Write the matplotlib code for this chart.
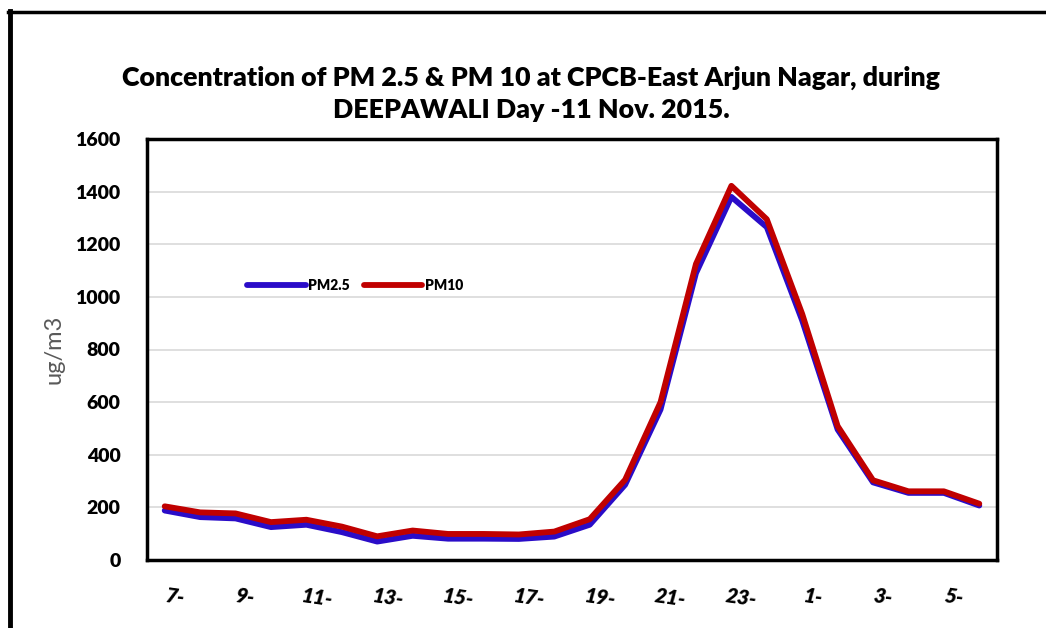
import matplotlib
matplotlib.use("Agg")
import matplotlib.pyplot as plt
from matplotlib.lines import Line2D
import matplotlib.transforms as mtransforms

hours = ["7", "8", "9", "10", "11", "12", "13", "14", "15", "16", "17", "18",
         "19", "20", "21", "22", "23", "0", "1", "2", "3", "4", "5", "6"]
pm25 = [188, 163, 158, 125, 134, 106, 70, 92, 81, 81, 80, 89,
        134, 286, 572, 1090, 1380, 1265, 910, 496, 295, 255, 255, 207]
pm10 = [204, 181, 177, 144, 153, 127, 90, 112, 99, 99, 97, 108,
        155, 305, 600, 1125, 1422, 1295, 935, 509, 303, 261, 261, 214]
title = "Concentration of PM 2.5 & PM 10 at CPCB-East Arjun Nagar, during\nDEEPAWALI Day -11 Nov. 2015."

plt.rcParams['font.family'] = ['Lato', 'DejaVu Sans']
W = "heavy"

fig = plt.figure(figsize=(10.46, 6.28), dpi=100)
ax = fig.add_axes([147/1046, 1-560/628, (997-147)/1046, (560-139)/628])

x = list(range(len(hours)))
ax.plot(x, pm25, color="#2A0CC8", lw=4.2, solid_capstyle="round", solid_joinstyle="round", label="PM2.5", zorder=3)
ax.plot(x, pm10, color="#C00000", lw=4.2, solid_capstyle="round", solid_joinstyle="round", label="PM10", zorder=4)

ax.set_xlim(-0.5, len(hours)-0.5)
ax.set_ylim(0, 1600)
ax.set_yticks(range(0, 1601, 200))
ax.set_yticklabels([str(v) for v in range(0, 1601, 200)], fontsize=14, fontweight=W)
ax.tick_params(axis="y", length=0, pad=19)
ax.yaxis.grid(True, color="#D9D9D9", lw=1.2)
ax.set_axisbelow(True)

ticks = x[::2]
ax.set_xticks(ticks)
ax.set_xticklabels([h + "-" for h in hours[::2]], fontsize=15, fontweight=W,
                   fontstyle="italic", rotation=-8, ha="center")
ax.tick_params(axis="x", length=0, pad=19)
offset = mtransforms.ScaledTranslation(10/100, 0, fig.dpi_scale_trans)
for lbl in ax.get_xticklabels():
    lbl.set_transform(lbl.get_transform() + offset)

for s in ax.spines.values():
    s.set_linewidth(2.5)
    s.set_color("black")

ax.set_ylabel("ug/m3", fontsize=17, color="#595959", labelpad=8)

leg = ax.legend(loc="center", bbox_to_anchor=(0.245, 0.652), ncol=2, frameon=False,
                prop={"size": 10, "weight": W}, handlelength=4.2, columnspacing=1.0,
                handletextpad=0.2)

fig.text(531/1046, 1-94/628, title, ha="center", va="center", fontsize=19.3,
         fontweight=W, linespacing=1.4)

# outer frame lines (left and top)
fig.add_artist(Line2D([10/1046, 10/1046], [0, 1-11/628], color="black", lw=3.5, transform=fig.transFigure))
fig.add_artist(Line2D([8/1046, 1], [1-12/628, 1-12/628], color="black", lw=2.5, transform=fig.transFigure))

fig.savefig("out.png", dpi=100)
